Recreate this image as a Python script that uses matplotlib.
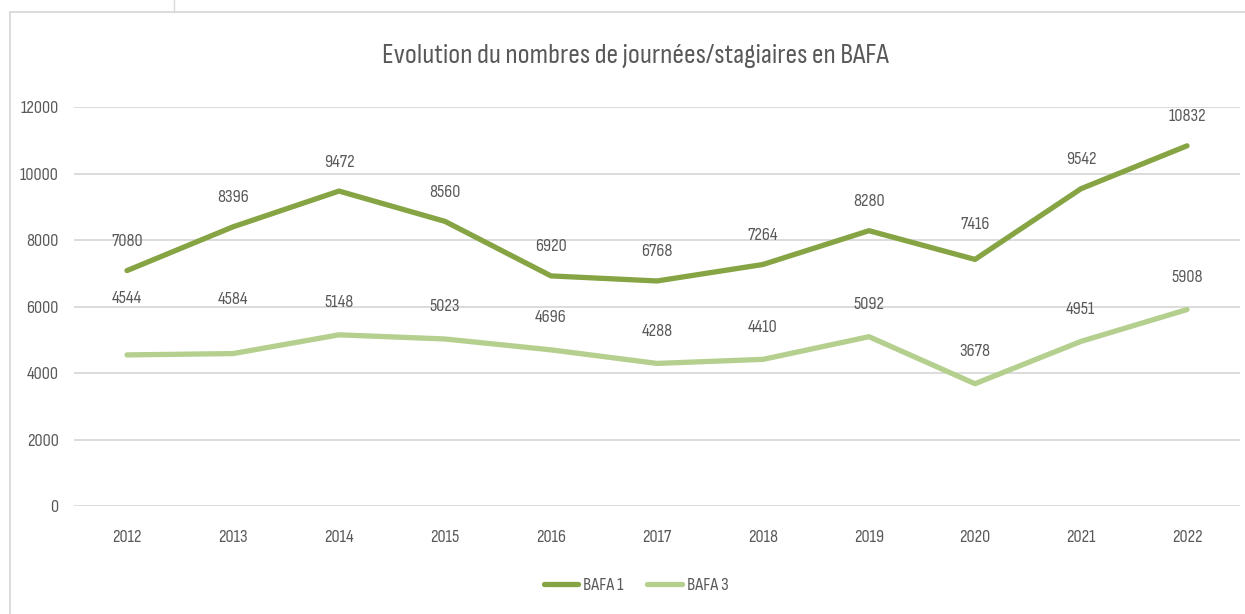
import matplotlib
matplotlib.use("Agg")
import matplotlib.pyplot as plt
from matplotlib.lines import Line2D
from matplotlib import font_manager

years = ["2012", "2013", "2014", "2015", "2016", "2017", "2018", "2019", "2020", "2021", "2022"]
bafa1 = [7080, 8396, 9472, 8560, 6920, 6768, 7264, 8280, 7416, 9542, 10832]
bafa3 = [4544, 4584, 5148, 5023, 4696, 4288, 4410, 5092, 3678, 4951, 5908]
series_names = ["BAFA 1", "BAFA 3"]
title = "Evolution du nombres de journées/stagiaires en BAFA"
yticks = [0, 2000, 4000, 6000, 8000, 10000, 12000]

names = {f.name for f in font_manager.fontManager.ttflist}
fam = "Liberation Sans"
for cand in ["Sofia Sans Condensed", "Archivo Narrow", "Liberation Sans Narrow"]:
    if cand in names:
        fam = cand
        break
plt.rcParams["font.family"] = [fam, "DejaVu Sans"]

TXT = "#595959"
C1 = "#86A444"
C3 = "#B4CF8E"
GRID = "#D9D9D9"

fig = plt.figure(figsize=(12.45, 6.14), dpi=100)
W, H = 1245, 614
renderer = fig.canvas.get_renderer()


def size_for(text, target_px, base=10.0):
    t = fig.text(0, 0, text, fontsize=base)
    w = t.get_window_extent(renderer).width
    t.remove()
    return base * target_px / w


FS = size_for("2012", 29.5)
FT = size_for(title, 504)

ax = fig.add_axes([74 / W, 1 - 506 / H, (1240 - 74) / W, (506 - 107) / H])

x = list(range(len(years)))
ax.plot(x, bafa1, color=C1, lw=3.8, solid_capstyle="round", solid_joinstyle="round", label=series_names[0])
ax.plot(x, bafa3, color=C3, lw=3.8, solid_capstyle="round", solid_joinstyle="round", label=series_names[1])

# label offsets in pixels (style, not data)
off1 = [29] * len(x)
off1[8] = 35
off3 = [32] * len(x)
off3[0] = 56
off3[1] = 54
px2pt = 72 / 100
for i in x:
    ax.annotate(str(bafa1[i]), (i, bafa1[i]), xytext=(0, off1[i] * px2pt), textcoords="offset points",
                ha="center", va="center", fontsize=FS, color=TXT)
    ax.annotate(str(bafa3[i]), (i, bafa3[i]), xytext=(0, off3[i] * px2pt), textcoords="offset points",
                ha="center", va="center", fontsize=FS, color=TXT)

ax.set_xlim(-0.5, len(years) - 0.5)
ax.set_ylim(0, 12000)
ax.set_yticks(yticks)
ax.set_yticklabels([str(v) for v in yticks])
ax.set_xticks(x)
ax.set_xticklabels(years)
ax.tick_params(axis="both", length=0, labelsize=FS, labelcolor=TXT)
ax.tick_params(axis="y", pad=11)
ax.tick_params(axis="x", pad=17)
ax.grid(axis="y", color=GRID, lw=1.3)
ax.set_axisbelow(True)
for s in ax.spines.values():
    s.set_visible(False)

fig.text(635 / W, 1 - 56 / H, title, ha="center", va="center", fontsize=FT, color=TXT)

leg = fig.legend(loc="center", bbox_to_anchor=(636 / W, 1 - 585 / H), ncol=2, frameon=False,
                 fontsize=FS, handlelength=1.9, handletextpad=0.25, columnspacing=1.3)
for t in leg.get_texts():
    t.set_color(TXT)

# chart frame lines
fig.add_artist(Line2D([10 / W, 10 / W], [0, 1 - 12 / H], transform=fig.transFigure, color=GRID, lw=1.3))
fig.add_artist(Line2D([10 / W, 1], [1 - 12 / H, 1 - 12 / H], transform=fig.transFigure, color=GRID, lw=1.3))
fig.add_artist(Line2D([174 / W, 174 / W], [1 - 12 / H, 1], transform=fig.transFigure, color=GRID, lw=1.0))

fig.savefig("out.png", dpi=100)
